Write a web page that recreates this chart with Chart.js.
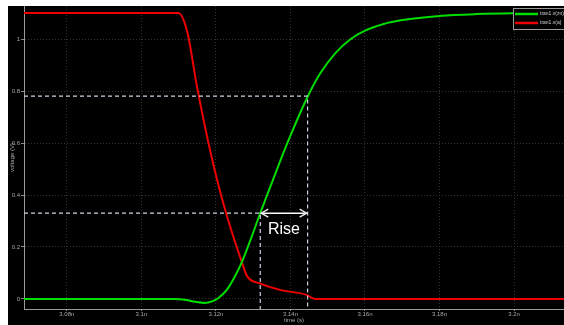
<!DOCTYPE html>
<html>
<head>
<meta charset="utf-8">
<script src="https://cdn.jsdelivr.net/npm/chart.js@4/dist/chart.umd.min.js"></script>
<style>
  html, body { margin: 0; padding: 0; background: #ffffff; }
  #wrap { width: 564px; height: 325px; position: relative; }
</style>
</head>
<body>
<div id="wrap"><canvas id="c" width="564" height="325"></canvas></div>
<script>
// Transient simulation: inverter input (falling) and output (rising), time in ns
const outTime = [3.0685, 3.109, 3.112, 3.1145, 3.117, 3.119, 3.1206, 3.1229, 3.1249, 3.1269, 3.1294, 3.1318, 3.1354, 3.1394, 3.1446, 3.148, 3.152, 3.156, 3.16, 3.165, 3.17, 3.18, 3.19, 3.2, 3.2134];
const outVolt = [0, 0, -0.004, -0.011, -0.015, -0.009, 0.003, 0.035, 0.082, 0.14, 0.232, 0.327, 0.462, 0.608, 0.778, 0.868, 0.945, 0.998, 1.032, 1.058, 1.073, 1.089, 1.096, 1.099, 1.1];

const inTime = [3.0685, 3.1099, 3.1123, 3.115, 3.118, 3.121, 3.124, 3.127, 3.1284, 3.1318, 3.1372, 3.1443, 3.1466, 3.16, 3.2134];
const inVolt = [1.1, 1.1, 1.028, 0.81, 0.6, 0.42, 0.27, 0.14, 0.087, 0.06, 0.035, 0.016, 0.0, 0.0, 0.0];

const seriesNames = ['tran1.v(zn)', 'tran1.v(a)'];

// Rise-time measurement: threshold levels and crossing times
const riseLevels = [0.33, 0.78];
const riseTimes = [3.1319, 3.1446];
const riseLabel = 'Rise';

const xTicks = [3.08, 3.10, 3.12, 3.14, 3.16, 3.18, 3.20];
const xTickLabels = ['3.08n', '3.1n', '3.12n', '3.14n', '3.16n', '3.18n', '3.2n'];
const yTicks = [0, 0.2, 0.4, 0.6, 0.8, 1.0];
const yTickLabels = ['0', '0.2', '0.4', '0.6', '0.8', '1'];

const X_MIN = 3.0685, X_MAX = 3.2134, Y_MIN = -0.0385, Y_MAX = 1.127;

const zip = (xs, ys) => xs.map((x, i) => ({ x: x, y: ys[i] }));

const bgPlugin = {
  id: 'bg',
  beforeDraw(chart) {
    const ctx = chart.ctx;
    ctx.save();
    ctx.fillStyle = '#ffffff';
    ctx.fillRect(0, 0, chart.width, chart.height);
    ctx.fillStyle = '#000000';
    ctx.fillRect(8, 6, chart.width - 8, chart.height - 6);
    ctx.restore();
  }
};

const overlayPlugin = {
  id: 'overlay',
  afterDatasetsDraw(chart) {
    const ctx = chart.ctx;
    const xs = chart.scales.x, ys = chart.scales.y;
    const x0 = xs.getPixelForValue(riseTimes[0]);
    const x1 = xs.getPixelForValue(riseTimes[1]);
    const y = ys.getPixelForValue(riseLevels[0]);
    ctx.save();
    // open arrow heads at both ends
    ctx.strokeStyle = '#e6e6e6';
    ctx.lineWidth = 1.5;
    ctx.beginPath();
    ctx.moveTo(x0 + 8, y - 4); ctx.lineTo(x0 + 1, y); ctx.lineTo(x0 + 8, y + 4);
    ctx.moveTo(x1 - 8, y - 4); ctx.lineTo(x1 - 1, y); ctx.lineTo(x1 - 8, y + 4);
    ctx.stroke();
    ctx.fillStyle = '#ffffff';
    ctx.font = '16px "Liberation Sans", Arial, sans-serif';
    ctx.textAlign = 'center';
    ctx.textBaseline = 'alphabetic';
    ctx.fillText(riseLabel, (x0 + x1) / 2, y + 21);

    // legend box
    const lx = 513, ly = 8, lw = 60, lh = 21;
    ctx.fillStyle = '#000000';
    ctx.fillRect(lx, ly, lw, lh);
    ctx.strokeStyle = '#9a9a9a';
    ctx.lineWidth = 1;
    ctx.strokeRect(lx + 0.5, ly + 0.5, lw, lh);
    const ds = chart.data.datasets;
    ctx.font = '5px "Liberation Sans", Arial, sans-serif';
    ctx.textAlign = 'left';
    ctx.textBaseline = 'middle';
    [0, 1].forEach((i) => {
      const yy = ly + 6 + i * 9;
      ctx.strokeStyle = ds[i].borderColor;
      ctx.lineWidth = 2.5;
      ctx.beginPath();
      ctx.moveTo(lx + 2, yy); ctx.lineTo(lx + 25, yy);
      ctx.stroke();
      ctx.fillStyle = '#d0d0d0';
      ctx.fillText(ds[i].label, lx + 27, yy);
    });
    ctx.restore();
  }
};

const dashStyle = {
  borderColor: '#c9d2e3',
  borderWidth: 1.2,
  borderDash: [4, 3],
  pointRadius: 0,
  fill: false,
  tension: 0
};

new Chart(document.getElementById('c'), {
  type: 'line',
  data: {
    datasets: [
      {
        label: seriesNames[0],
        data: zip(outTime, outVolt),
        borderColor: '#00dd00',
        borderWidth: 2,
        pointRadius: 0,
        cubicInterpolationMode: 'monotone',
        order: 1
      },
      {
        label: seriesNames[1],
        data: zip(inTime, inVolt),
        borderColor: '#ee0000',
        borderWidth: 2,
        pointRadius: 0,
        cubicInterpolationMode: 'monotone',
        order: 2
      },
      Object.assign({
        label: 'high',
        data: [{ x: X_MIN, y: riseLevels[1] }, { x: riseTimes[1], y: riseLevels[1] }, { x: riseTimes[1], y: Y_MIN }],
        order: 0
      }, dashStyle),
      Object.assign({
        label: 'low',
        data: [{ x: X_MIN, y: riseLevels[0] }, { x: riseTimes[0], y: riseLevels[0] }, { x: riseTimes[0], y: Y_MIN }],
        order: 0
      }, dashStyle),
      {
        label: 'span',
        data: [{ x: riseTimes[0], y: riseLevels[0] }, { x: riseTimes[1], y: riseLevels[0] }],
        borderColor: '#ffffff',
        borderWidth: 1.5,
        pointRadius: 0,
        order: 0
      }
    ]
  },
  options: {
    responsive: false,
    animation: false,
    layout: { padding: { top: 6, left: 0, right: 0, bottom: 0 } },
    plugins: { legend: { display: false }, tooltip: { enabled: false } },
    scales: {
      x: {
        type: 'linear',
        min: X_MIN,
        max: X_MAX,
        afterFit(s) { s.height = 16; },
        afterBuildTicks(s) { s.ticks = xTicks.map(v => ({ value: v })); },
        ticks: {
          color: '#a8a8a8',
          font: { size: 6, family: '"Liberation Sans", Arial, sans-serif' },
          padding: 0,
          maxRotation: 0,
          autoSkip: false,
          callback: (v, i) => xTickLabels[i]
        },
        grid: { color: '#333333', tickColor: '#8a8a8a', tickLength: 2, lineWidth: 1 },
        border: { display: true, color: '#9a9a9a', width: 1, dash: [1, 2] },
        title: {
          display: true,
          text: 'time (s)',
          color: '#a8a8a8',
          font: { size: 6, family: '"Liberation Sans", Arial, sans-serif' },
          padding: { top: 0, bottom: 1 }
        }
      },
      y: {
        type: 'linear',
        min: Y_MIN,
        max: Y_MAX,
        afterFit(s) { s.width = 24; },
        afterBuildTicks(s) { s.ticks = yTicks.map(v => ({ value: v })); },
        ticks: {
          color: '#a8a8a8',
          font: { size: 6, family: '"Liberation Sans", Arial, sans-serif' },
          padding: 1,
          autoSkip: false,
          callback: (v, i) => yTickLabels[i]
        },
        grid: { color: '#333333', tickColor: '#8a8a8a', tickLength: 3, lineWidth: 1 },
        border: { display: true, color: '#9a9a9a', width: 1, dash: [1, 2] },
        title: {
          display: true,
          text: 'voltage (V)',
          color: '#a8a8a8',
          font: { size: 6, family: '"Liberation Sans", Arial, sans-serif' },
          padding: { top: 9, bottom: 0 }
        }
      }
    }
  },
  plugins: [bgPlugin, overlayPlugin]
});
</script>
</body>
</html>
